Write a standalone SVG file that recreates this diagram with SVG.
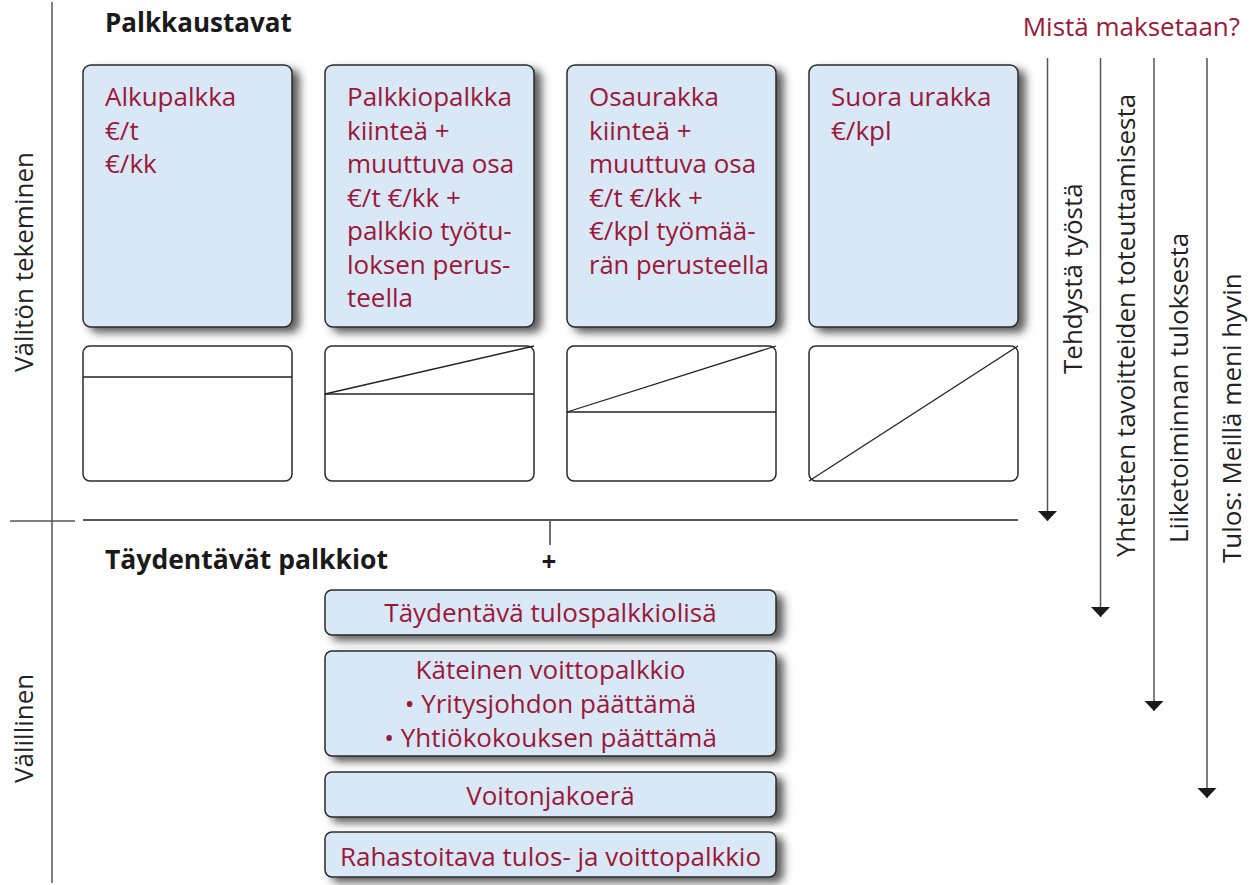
<svg xmlns="http://www.w3.org/2000/svg" width="1253" height="885" viewBox="0 0 1253 885">
<style>
.box{fill:#d8e8f6;stroke:#2b2b2b;stroke-width:1.5}
.sbox{fill:#fff;stroke:#2b2b2b;stroke-width:1.5}
.ln{stroke:#222;stroke-width:1.3;fill:none}
.gl{stroke:#555;stroke-width:1.5;fill:none}
.t{font-family:"Open Sans","Liberation Sans",sans-serif;font-size:26px;fill:#9b1838}
.tc{text-anchor:middle}
.h{font-family:"Open Sans","Liberation Sans",sans-serif;font-size:26px;font-weight:bold;fill:#1a1a1a}
.r{font-family:"Open Sans","Liberation Sans",sans-serif;font-size:26px;fill:#222}
</style>
<defs>
<filter id="sh" x="-10%" y="-10%" width="130%" height="140%">
<feGaussianBlur in="SourceAlpha" stdDeviation="4"/>
<feOffset dx="7" dy="5" result="b"/>
<feFlood flood-color="#333" flood-opacity="0.8"/>
<feComposite in2="b" operator="in"/>
<feMerge><feMergeNode/><feMergeNode in="SourceGraphic"/></feMerge>
</filter>
<marker id="ah" viewBox="0 0 11 20" refX="10.5" refY="10" markerWidth="11" markerHeight="20" markerUnits="userSpaceOnUse" orient="auto">
<path d="M0,0 L10.5,10 L0,20 Z" fill="#1a1a1a"/>
</marker>
</defs>

<g id="axes">
<line class="gl" x1="52" y1="2" x2="52" y2="883"/>
<line class="gl" x1="10" y1="521" x2="75" y2="521"/>
<line class="ln" x1="83" y1="520" x2="1018" y2="520"/>
<line class="ln" x1="550" y1="521" x2="550" y2="545"/>
<text class="h" x="549" y="571" text-anchor="middle">+</text>
<text class="r" transform="translate(33,372) rotate(-90)">Välitön tekeminen</text>
<text class="r" transform="translate(33,783) rotate(-90)">Välillinen</text>
<text class="h" x="105" y="32">Palkkaustavat</text>
<text class="h" x="105" y="569" style="font-size:26.5px">Täydentävät palkkiot</text>
<text class="t" x="1240" y="36" text-anchor="end">Mistä maksetaan?</text>
</g>

<g id="n1">
<rect class="box" x="83" y="65" width="209" height="262" rx="8" filter="url(#sh)"/>
<text class="t" x="105" y="106">Alkupalkka</text>
<text class="t" x="105" y="139.5">€/t</text>
<text class="t" x="105" y="173">€/kk</text>
</g>
<g id="n2">
<rect class="box" x="325" y="65" width="209" height="262" rx="8" filter="url(#sh)"/>
<text class="t" x="347" y="106">Palkkiopalkka</text>
<text class="t" x="347" y="139.5">kiinteä +</text>
<text class="t" x="347" y="173">muuttuva osa</text>
<text class="t" x="347" y="206.5">€/t €/kk +</text>
<text class="t" x="347" y="240">palkkio työtu-</text>
<text class="t" x="347" y="273.5">loksen perus-</text>
<text class="t" x="347" y="307">teella</text>
</g>
<g id="n3">
<rect class="box" x="567" y="65" width="209" height="262" rx="8" filter="url(#sh)"/>
<text class="t" x="589" y="106">Osaurakka</text>
<text class="t" x="589" y="139.5">kiinteä +</text>
<text class="t" x="589" y="173">muuttuva osa</text>
<text class="t" x="589" y="206.5">€/t €/kk +</text>
<text class="t" x="589" y="240">€/kpl työmää-</text>
<text class="t" x="589" y="273.5" textLength="180" lengthAdjust="spacingAndGlyphs">rän perusteella</text>
</g>
<g id="n4">
<rect class="box" x="809" y="65" width="209" height="262" rx="8" filter="url(#sh)"/>
<text class="t" x="831" y="106">Suora urakka</text>
<text class="t" x="831" y="139.5">€/kpl</text>
</g>

<g id="g1">
<rect class="sbox" x="83" y="346" width="209" height="135" rx="7"/>
<line class="ln" x1="83" y1="377" x2="292" y2="377"/>
</g>
<g id="g2">
<rect class="sbox" x="325" y="346" width="209" height="135" rx="7"/>
<line class="ln" x1="325" y1="394" x2="534" y2="394"/>
<line class="ln" x1="325" y1="394" x2="534" y2="346"/>
</g>
<g id="g3">
<rect class="sbox" x="567" y="346" width="209" height="135" rx="7"/>
<line class="ln" x1="567" y1="412" x2="776" y2="412"/>
<line class="ln" x1="567" y1="412" x2="776" y2="346"/>
</g>
<g id="g4">
<rect class="sbox" x="809" y="346" width="209" height="135" rx="7"/>
<line class="ln" x1="809" y1="481" x2="1018" y2="346"/>
</g>

<g id="b1">
<rect class="box" x="325" y="590" width="451" height="45" rx="7" filter="url(#sh)"/>
<text class="t tc" x="550.5" y="622">Täydentävä tulospalkkiolisä</text>
</g>
<g id="b2">
<rect class="box" x="325" y="651" width="451" height="105" rx="7" filter="url(#sh)"/>
<text class="t tc" x="550.5" y="679">Käteinen voittopalkkio</text>
<text class="t tc" x="550.5" y="713">• Yritysjohdon päättämä</text>
<text class="t tc" x="550.5" y="747">• Yhtiökokouksen päättämä</text>
</g>
<g id="b3">
<rect class="box" x="325" y="772" width="451" height="45" rx="7" filter="url(#sh)"/>
<text class="t tc" x="550.5" y="805">Voitonjakoerä</text>
</g>
<g id="b4">
<rect class="box" x="325" y="832" width="451" height="45" rx="7" filter="url(#sh)"/>
<text class="t tc" x="550.5" y="866">Rahastoitava tulos- ja voittopalkkio</text>
</g>

<g id="connectors">
<line class="gl" x1="1047.5" y1="58" x2="1047.5" y2="521" marker-end="url(#ah)"/>
<line class="gl" x1="1100.5" y1="58" x2="1100.5" y2="617" marker-end="url(#ah)"/>
<line class="gl" x1="1154" y1="58" x2="1154" y2="711" marker-end="url(#ah)"/>
<line class="gl" x1="1207" y1="58" x2="1207" y2="798" marker-end="url(#ah)"/>
</g>

<g id="arrow-labels">
<text class="r" transform="translate(1082,374) rotate(-90)">Tehdystä työstä</text>
<text class="r" transform="translate(1135,557) rotate(-90)">Yhteisten tavoitteiden toteuttamisesta</text>
<text class="r" transform="translate(1188,543) rotate(-90)">Liiketoiminnan tuloksesta</text>
<text class="r" transform="translate(1241,563) rotate(-90)">Tulos: Meillä meni hyvin</text>
</g>
</svg>
